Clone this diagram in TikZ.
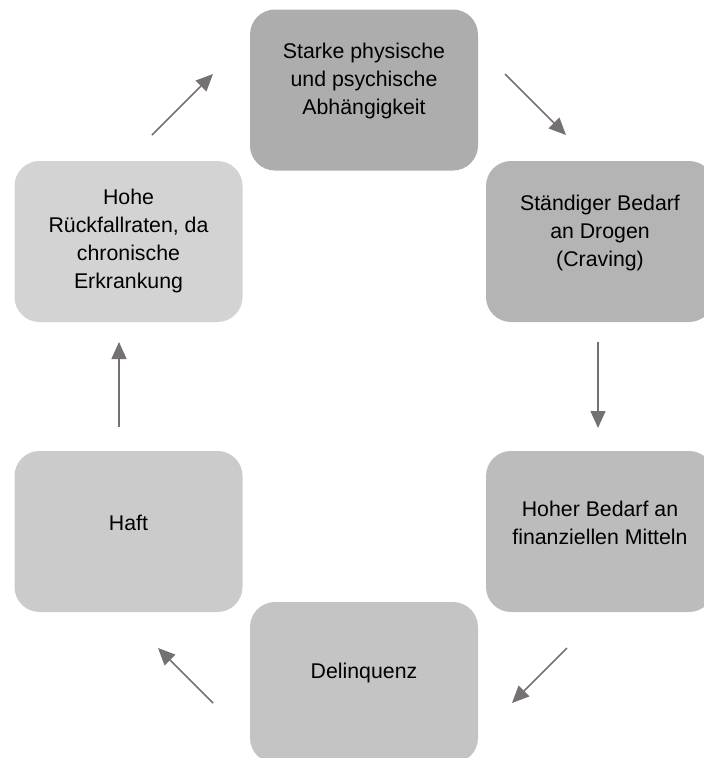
\documentclass[tikz,border=0pt]{standalone}
\usepackage{fontspec}
\setmainfont{Liberation Sans}
\usetikzlibrary{arrows.meta}
\definecolor{arrowgray}{RGB}{118,113,113}
\definecolor{cA}{RGB}{173,173,173}
\definecolor{cB}{RGB}{180,180,180}
\definecolor{cC}{RGB}{188,188,188}
\definecolor{cD}{RGB}{196,196,196}
\definecolor{cE}{RGB}{203,203,203}
\definecolor{cF}{RGB}{211,211,211}
\tikzset{
  cyclebox/.style={rectangle, rounded corners=25pt, minimum width=228pt, minimum height=161pt, inner sep=0pt, draw=none},
  boxtext/.style={align=center, inner sep=0pt, text=black, font=\fontsize{21.3}{27.7}\selectfont},
  flowarrow/.style={draw=arrowgray, line width=1.5pt, -{Triangle[length=17pt,width=15pt]}}
}
\begin{document}
\begin{tikzpicture}[x=1pt,y=-1pt]
\useasboundingbox (0,0) rectangle (704,758);
\clip (0,0) rectangle (704,758);
% boxes
\node[cyclebox, fill=cA] (b1) at (364,90) {};
\node[cyclebox, fill=cB] (b2) at (600,241.5) {};
\node[cyclebox, fill=cC] (b3) at (600,531.5) {};
\node[cyclebox, fill=cD] (b4) at (364,682.5) {};
\node[cyclebox, fill=cE] (b5) at (128.5,531.5) {};
\node[cyclebox, fill=cF] (b6) at (128.5,241.5) {};
% texts
\node[boxtext] (t1) at (364,81) {Starke physische\\und psychische\\Abhängigkeit};
\node[boxtext] (t2) at (600,233) {Ständiger Bedarf\\an Drogen\\(Craving)};
\node[boxtext] (t3) at (600,523) {Hoher Bedarf an\\finanziellen Mitteln};
\node[boxtext] (t4) at (364,673) {Delinquenz};
\node[boxtext] (t5) at (128.5,523) {Haft};
\node[boxtext] (t6) at (128.5,241) {Hohe\\Rückfallraten, da\\chronische\\Erkrankung};
% arrow end points
\coordinate (a1s) at (505,74);  \coordinate (a1e) at (566,135);
\coordinate (a2s) at (598,342); \coordinate (a2e) at (598,428);
\coordinate (a3s) at (567,648); \coordinate (a3e) at (512,703);
\coordinate (a4s) at (213,703); \coordinate (a4e) at (158,648);
\coordinate (a5s) at (119,427); \coordinate (a5e) at (119,342);
\coordinate (a6s) at (152,135); \coordinate (a6e) at (213,74);
\draw[flowarrow] (a1s) -- (a1e);
\draw[flowarrow] (a2s) -- (a2e);
\draw[flowarrow] (a3s) -- (a3e);
\draw[flowarrow] (a4s) -- (a4e);
\draw[flowarrow] (a5s) -- (a5e);
\draw[flowarrow] (a6s) -- (a6e);
\end{tikzpicture}
\end{document}
